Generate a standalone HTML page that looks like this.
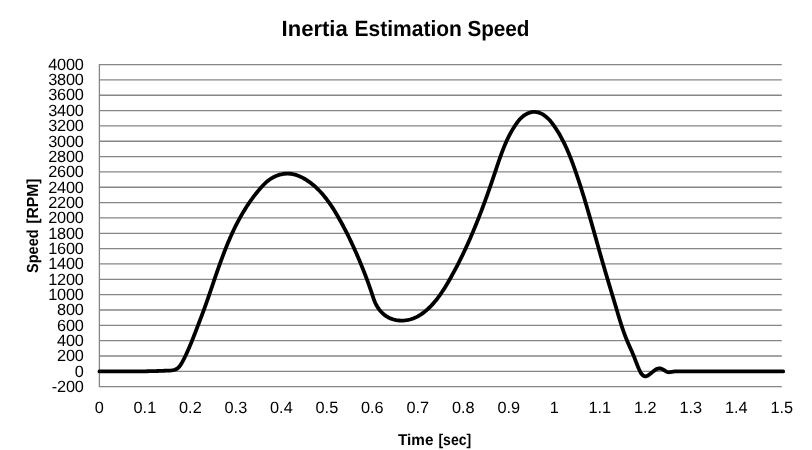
<!DOCTYPE html>
<html><head><meta charset="utf-8"><title>Inertia Estimation Speed</title>
<style>html,body{margin:0;padding:0;background:#fff;}svg{display:block;}text{font-family:"Liberation Sans",sans-serif;fill:#000;text-rendering:geometricPrecision;}svg{will-change:transform;}</style>
</head><body>
<svg width="812" height="450" viewBox="0 0 812 450">
<rect width="812" height="450" fill="#ffffff"/>
<g stroke="#868686" stroke-width="1.3" fill="none">
<line x1="99.40" y1="64.55" x2="781.80" y2="64.55"/>
<line x1="99.40" y1="79.89" x2="781.80" y2="79.89"/>
<line x1="99.40" y1="95.23" x2="781.80" y2="95.23"/>
<line x1="99.40" y1="110.57" x2="781.80" y2="110.57"/>
<line x1="99.40" y1="125.91" x2="781.80" y2="125.91"/>
<line x1="99.40" y1="141.25" x2="781.80" y2="141.25"/>
<line x1="99.40" y1="156.59" x2="781.80" y2="156.59"/>
<line x1="99.40" y1="171.93" x2="781.80" y2="171.93"/>
<line x1="99.40" y1="187.27" x2="781.80" y2="187.27"/>
<line x1="99.40" y1="202.61" x2="781.80" y2="202.61"/>
<line x1="99.40" y1="217.95" x2="781.80" y2="217.95"/>
<line x1="99.40" y1="233.29" x2="781.80" y2="233.29"/>
<line x1="99.40" y1="248.63" x2="781.80" y2="248.63"/>
<line x1="99.40" y1="263.97" x2="781.80" y2="263.97"/>
<line x1="99.40" y1="279.31" x2="781.80" y2="279.31"/>
<line x1="99.40" y1="294.65" x2="781.80" y2="294.65"/>
<line x1="99.40" y1="309.99" x2="781.80" y2="309.99"/>
<line x1="99.40" y1="325.33" x2="781.80" y2="325.33"/>
<line x1="99.40" y1="340.67" x2="781.80" y2="340.67"/>
<line x1="99.40" y1="356.01" x2="781.80" y2="356.01"/>
<line x1="99.40" y1="371.35" x2="781.80" y2="371.35"/>
<line x1="99.40" y1="386.69" x2="781.80" y2="386.69"/>
<line x1="99.40" y1="63.95" x2="99.40" y2="387.29"/>
</g>
<g font-size="16.3" text-anchor="end" letter-spacing="-0.18">
<text x="83.7" y="69.80">4000</text>
<text x="83.7" y="85.14">3800</text>
<text x="83.7" y="100.48">3600</text>
<text x="83.7" y="115.82">3400</text>
<text x="83.7" y="131.16">3200</text>
<text x="83.7" y="146.50">3000</text>
<text x="83.7" y="161.84">2800</text>
<text x="83.7" y="177.18">2600</text>
<text x="83.7" y="192.52">2400</text>
<text x="83.7" y="207.86">2200</text>
<text x="83.7" y="223.20">2000</text>
<text x="83.7" y="238.54">1800</text>
<text x="83.7" y="253.88">1600</text>
<text x="83.7" y="269.22">1400</text>
<text x="83.7" y="284.56">1200</text>
<text x="83.7" y="299.90">1000</text>
<text x="83.7" y="315.24">800</text>
<text x="83.7" y="330.58">600</text>
<text x="83.7" y="345.92">400</text>
<text x="83.7" y="361.26">200</text>
<text x="83.7" y="376.60">0</text>
<text x="83.7" y="391.94">-200</text>
</g>
<g font-size="16.3" text-anchor="middle">
<text x="99.40" y="412.9">0</text>
<text x="144.89" y="412.9">0.1</text>
<text x="190.39" y="412.9">0.2</text>
<text x="235.88" y="412.9">0.3</text>
<text x="281.37" y="412.9">0.4</text>
<text x="326.87" y="412.9">0.5</text>
<text x="372.36" y="412.9">0.6</text>
<text x="417.85" y="412.9">0.7</text>
<text x="463.35" y="412.9">0.8</text>
<text x="508.84" y="412.9">0.9</text>
<text x="554.33" y="412.9">1</text>
<text x="599.83" y="412.9">1.1</text>
<text x="645.32" y="412.9">1.2</text>
<text x="690.81" y="412.9">1.3</text>
<text x="736.31" y="412.9">1.4</text>
<text x="781.80" y="412.9">1.5</text>
</g>
<g font-size="22" font-weight="bold">
<text x="281.6" y="35.6" textLength="66.1" lengthAdjust="spacingAndGlyphs">Inertia</text>
<text x="354.6" y="35.6" textLength="107.3" lengthAdjust="spacingAndGlyphs">Estimation</text>
<text x="467.4" y="35.6" textLength="62.1" lengthAdjust="spacingAndGlyphs">Speed</text>
</g>
<g font-size="15.7" font-weight="bold">
<text x="398.0" y="445.1" textLength="35.4" lengthAdjust="spacingAndGlyphs">Time</text>
<text x="438.4" y="445.1" textLength="32.9" lengthAdjust="spacingAndGlyphs">[sec]</text>
</g>
<g font-size="16" font-weight="bold" transform="translate(38.2 272.8) rotate(-90)">
<text x="-0.2" y="0" textLength="43.6" lengthAdjust="spacingAndGlyphs">Speed</text>
<text x="49.0" y="0" textLength="45.3" lengthAdjust="spacingAndGlyphs">[RPM]</text>
</g>
<path d="M99.40 371.40 L101.11 371.39 L102.83 371.39 L104.54 371.39 L106.26 371.38 L107.97 371.38 L109.69 371.38 L111.40 371.39 L113.12 371.39 L114.84 371.39 L116.55 371.39 L118.27 371.40 L119.99 371.40 L121.71 371.40 L123.42 371.41 L125.14 371.41 L126.86 371.41 L128.58 371.41 L130.29 371.41 L132.01 371.40 L133.73 371.40 L135.44 371.39 L137.16 371.38 L138.87 371.37 L140.59 371.35 L142.30 371.33 L144.02 371.31 L145.73 371.28 L147.45 371.26 L149.16 371.22 L150.87 371.19 L152.58 371.14 L154.29 371.10 L156.00 371.05 L157.72 371.00 L159.43 370.94 L161.15 370.88 L162.87 370.82 L164.59 370.76 L166.31 370.69 L168.04 370.62 L169.78 370.54 L171.50 370.42 L173.20 370.18 L174.84 369.77 L176.40 369.10 L177.81 368.17 L179.04 366.99 L180.11 365.63 L181.07 364.15 L181.96 362.62 L182.79 361.09 L183.60 359.57 L184.37 358.05 L185.12 356.52 L185.86 354.99 L186.58 353.45 L187.29 351.89 L187.99 350.33 L188.68 348.77 L189.36 347.19 L190.03 345.61 L190.69 344.03 L191.35 342.44 L191.99 340.85 L192.63 339.25 L193.27 337.65 L193.90 336.04 L194.52 334.44 L195.14 332.83 L195.76 331.23 L196.38 329.62 L196.99 328.01 L197.61 326.41 L198.22 324.80 L198.83 323.20 L199.44 321.60 L200.05 320.00 L200.66 318.40 L201.27 316.81 L201.88 315.21 L202.48 313.61 L203.08 312.01 L203.67 310.40 L204.26 308.80 L204.84 307.19 L205.42 305.58 L206.00 303.97 L206.57 302.35 L207.14 300.73 L207.71 299.12 L208.28 297.50 L208.84 295.88 L209.40 294.25 L209.95 292.63 L210.51 291.00 L211.07 289.38 L211.62 287.75 L212.18 286.13 L212.73 284.50 L213.28 282.87 L213.84 281.24 L214.39 279.62 L214.95 277.99 L215.51 276.36 L216.07 274.74 L216.63 273.11 L217.19 271.49 L217.76 269.86 L218.33 268.24 L218.90 266.62 L219.47 265.00 L220.05 263.38 L220.64 261.77 L221.23 260.15 L221.82 258.54 L222.42 256.93 L223.02 255.32 L223.63 253.72 L224.25 252.12 L224.87 250.52 L225.50 248.92 L226.13 247.33 L226.77 245.74 L227.42 244.15 L228.08 242.57 L228.75 240.99 L229.42 239.41 L230.11 237.84 L230.80 236.27 L231.50 234.71 L232.21 233.15 L232.94 231.60 L233.67 230.05 L234.41 228.50 L235.17 226.96 L235.93 225.43 L236.71 223.90 L237.50 222.38 L238.30 220.86 L239.11 219.35 L239.94 217.85 L240.78 216.35 L241.63 214.86 L242.50 213.37 L243.38 211.89 L244.27 210.42 L245.17 208.96 L246.09 207.51 L247.03 206.06 L247.97 204.63 L248.93 203.20 L249.91 201.78 L250.90 200.38 L251.90 198.99 L252.91 197.60 L253.94 196.23 L254.99 194.87 L256.05 193.52 L257.12 192.19 L258.20 190.87 L259.31 189.56 L260.42 188.27 L261.55 186.99 L262.70 185.73 L263.87 184.49 L265.08 183.29 L266.33 182.13 L267.63 181.02 L268.99 179.97 L270.41 178.99 L271.89 178.07 L273.41 177.23 L274.98 176.46 L276.59 175.78 L278.23 175.18 L279.89 174.67 L281.57 174.26 L283.26 173.94 L284.96 173.73 L286.66 173.62 L288.35 173.62 L290.03 173.73 L291.70 173.95 L293.36 174.26 L294.99 174.67 L296.62 175.17 L298.22 175.75 L299.80 176.40 L301.36 177.12 L302.90 177.91 L304.41 178.75 L305.90 179.65 L307.36 180.59 L308.79 181.57 L310.19 182.59 L311.55 183.63 L312.89 184.71 L314.20 185.82 L315.48 186.95 L316.74 188.12 L317.96 189.31 L319.16 190.52 L320.34 191.76 L321.49 193.02 L322.62 194.31 L323.73 195.61 L324.81 196.94 L325.88 198.28 L326.92 199.64 L327.94 201.02 L328.95 202.42 L329.94 203.82 L330.91 205.25 L331.87 206.68 L332.81 208.13 L333.73 209.59 L334.65 211.05 L335.55 212.53 L336.43 214.01 L337.31 215.50 L338.18 216.99 L339.03 218.49 L339.88 219.99 L340.72 221.50 L341.55 223.01 L342.37 224.52 L343.19 226.03 L343.99 227.55 L344.79 229.07 L345.58 230.60 L346.36 232.13 L347.14 233.66 L347.90 235.19 L348.66 236.73 L349.41 238.27 L350.16 239.81 L350.90 241.35 L351.63 242.90 L352.35 244.45 L353.07 246.01 L353.78 247.56 L354.49 249.12 L355.19 250.68 L355.88 252.25 L356.57 253.81 L357.25 255.38 L357.93 256.95 L358.60 258.53 L359.27 260.11 L359.93 261.69 L360.58 263.27 L361.23 264.85 L361.88 266.44 L362.52 268.03 L363.16 269.62 L363.79 271.21 L364.41 272.81 L365.03 274.40 L365.65 276.01 L366.25 277.61 L366.86 279.22 L367.45 280.83 L368.04 282.44 L368.63 284.05 L369.21 285.67 L369.78 287.29 L370.34 288.92 L370.90 290.55 L371.46 292.18 L372.00 293.81 L372.54 295.45 L373.08 297.09 L373.63 298.72 L374.22 300.33 L374.86 301.93 L375.56 303.50 L376.34 305.03 L377.19 306.53 L378.11 307.97 L379.11 309.37 L380.17 310.71 L381.31 311.99 L382.51 313.19 L383.78 314.33 L385.12 315.38 L386.52 316.34 L387.98 317.22 L389.50 317.99 L391.09 318.66 L392.72 319.23 L394.39 319.69 L396.11 320.06 L397.84 320.32 L399.59 320.49 L401.36 320.56 L403.12 320.53 L404.87 320.41 L406.60 320.20 L408.31 319.90 L409.99 319.50 L411.62 319.02 L413.23 318.46 L414.79 317.82 L416.33 317.11 L417.83 316.33 L419.29 315.49 L420.73 314.60 L422.13 313.64 L423.49 312.65 L424.83 311.60 L426.14 310.52 L427.42 309.40 L428.66 308.25 L429.88 307.07 L431.07 305.87 L432.24 304.63 L433.38 303.37 L434.49 302.09 L435.59 300.78 L436.66 299.45 L437.70 298.10 L438.73 296.72 L439.74 295.34 L440.73 293.93 L441.70 292.51 L442.66 291.07 L443.60 289.62 L444.52 288.16 L445.43 286.69 L446.33 285.21 L447.22 283.73 L448.10 282.23 L448.97 280.73 L449.83 279.23 L450.68 277.72 L451.52 276.21 L452.36 274.70 L453.19 273.19 L454.02 271.67 L454.83 270.15 L455.64 268.63 L456.44 267.10 L457.24 265.58 L458.02 264.05 L458.81 262.51 L459.58 260.98 L460.35 259.44 L461.11 257.90 L461.87 256.36 L462.62 254.82 L463.36 253.27 L464.10 251.72 L464.83 250.17 L465.55 248.61 L466.27 247.06 L466.99 245.50 L467.70 243.94 L468.40 242.38 L469.10 240.81 L469.79 239.25 L470.47 237.68 L471.16 236.11 L471.83 234.53 L472.50 232.96 L473.17 231.38 L473.83 229.80 L474.49 228.22 L475.14 226.64 L475.79 225.06 L476.43 223.47 L477.07 221.88 L477.71 220.29 L478.34 218.70 L478.96 217.11 L479.58 215.51 L480.20 213.92 L480.82 212.32 L481.43 210.72 L482.03 209.12 L482.64 207.52 L483.24 205.91 L483.83 204.31 L484.43 202.70 L485.02 201.09 L485.60 199.48 L486.19 197.87 L486.77 196.25 L487.34 194.64 L487.92 193.02 L488.49 191.41 L489.06 189.79 L489.63 188.17 L490.19 186.55 L490.76 184.93 L491.32 183.30 L491.87 181.68 L492.43 180.06 L492.98 178.43 L493.53 176.80 L494.08 175.17 L494.63 173.54 L495.18 171.91 L495.72 170.28 L496.27 168.65 L496.81 167.02 L497.36 165.39 L497.91 163.76 L498.46 162.13 L499.02 160.50 L499.58 158.88 L500.16 157.26 L500.73 155.64 L501.32 154.03 L501.92 152.42 L502.53 150.81 L503.15 149.21 L503.78 147.62 L504.43 146.03 L505.10 144.45 L505.78 142.88 L506.47 141.31 L507.19 139.76 L507.92 138.21 L508.68 136.67 L509.46 135.14 L510.26 133.62 L511.08 132.11 L511.93 130.61 L512.81 129.13 L513.71 127.65 L514.64 126.19 L515.60 124.74 L516.59 123.32 L517.62 121.92 L518.70 120.57 L519.83 119.28 L521.01 118.05 L522.25 116.90 L523.57 115.84 L524.95 114.87 L526.42 114.02 L527.97 113.29 L529.60 112.69 L531.31 112.24 L533.04 111.97 L534.77 111.91 L536.48 112.05 L538.14 112.40 L539.76 112.93 L541.33 113.62 L542.85 114.44 L544.32 115.40 L545.72 116.45 L547.05 117.58 L548.31 118.78 L549.50 120.04 L550.63 121.34 L551.72 122.67 L552.76 124.04 L553.76 125.43 L554.74 126.84 L555.69 128.27 L556.62 129.70 L557.54 131.15 L558.43 132.61 L559.30 134.08 L560.15 135.56 L560.98 137.06 L561.79 138.56 L562.58 140.07 L563.36 141.59 L564.12 143.12 L564.87 144.66 L565.60 146.21 L566.31 147.77 L567.01 149.33 L567.70 150.90 L568.37 152.48 L569.03 154.06 L569.68 155.65 L570.32 157.25 L570.95 158.85 L571.57 160.45 L572.18 162.06 L572.78 163.67 L573.37 165.28 L573.96 166.90 L574.54 168.52 L575.11 170.15 L575.67 171.77 L576.24 173.40 L576.79 175.02 L577.34 176.65 L577.89 178.28 L578.44 179.91 L578.97 181.54 L579.51 183.18 L580.04 184.81 L580.57 186.44 L581.09 188.08 L581.61 189.72 L582.12 191.35 L582.63 192.99 L583.14 194.63 L583.65 196.27 L584.15 197.91 L584.65 199.55 L585.15 201.20 L585.64 202.84 L586.13 204.48 L586.62 206.13 L587.10 207.77 L587.59 209.42 L588.07 211.07 L588.55 212.71 L589.03 214.36 L589.50 216.01 L589.98 217.66 L590.45 219.31 L590.92 220.95 L591.39 222.60 L591.86 224.25 L592.33 225.90 L592.79 227.55 L593.26 229.20 L593.72 230.85 L594.19 232.51 L594.65 234.16 L595.12 235.81 L595.58 237.46 L596.04 239.11 L596.51 240.76 L596.97 242.41 L597.43 244.06 L597.90 245.71 L598.36 247.36 L598.83 249.02 L599.29 250.67 L599.76 252.32 L600.23 253.97 L600.70 255.62 L601.17 257.27 L601.64 258.91 L602.11 260.56 L602.59 262.21 L603.06 263.86 L603.54 265.51 L604.02 267.15 L604.50 268.80 L604.98 270.45 L605.47 272.09 L605.95 273.74 L606.44 275.38 L606.93 277.03 L607.42 278.67 L607.91 280.32 L608.40 281.96 L608.89 283.61 L609.38 285.25 L609.88 286.89 L610.37 288.54 L610.87 290.18 L611.36 291.83 L611.85 293.47 L612.35 295.11 L612.84 296.76 L613.34 298.40 L613.83 300.05 L614.32 301.69 L614.82 303.34 L615.31 304.98 L615.80 306.62 L616.29 308.27 L616.78 309.92 L617.27 311.56 L617.76 313.21 L618.25 314.85 L618.75 316.50 L619.24 318.14 L619.74 319.78 L620.25 321.42 L620.76 323.06 L621.28 324.70 L621.81 326.33 L622.35 327.96 L622.90 329.58 L623.46 331.20 L624.03 332.82 L624.62 334.43 L625.22 336.03 L625.84 337.63 L626.48 339.23 L627.13 340.82 L627.80 342.40 L628.49 343.97 L629.18 345.55 L629.88 347.12 L630.59 348.68 L631.29 350.25 L631.98 351.82 L632.66 353.39 L633.33 354.96 L633.97 356.54 L634.60 358.13 L635.21 359.72 L635.82 361.31 L636.43 362.90 L637.06 364.49 L637.69 366.08 L638.36 367.68 L639.05 369.26 L639.79 370.84 L640.58 372.41 L641.50 373.88 L642.67 375.15 L644.15 376.08 L645.79 376.36 L647.40 375.79 L648.90 374.80 L650.28 373.76 L651.59 372.71 L652.90 371.64 L654.28 370.57 L655.76 369.56 L657.31 368.78 L658.91 368.37 L660.54 368.48 L662.15 369.08 L663.71 369.97 L665.21 370.93 L666.72 371.75 L668.28 372.24 L669.94 372.22 L671.66 371.89 L673.40 371.58 L675.12 371.40 L676.84 371.31 L678.55 371.29 L680.25 371.32 L681.96 371.37 L683.67 371.41 L685.38 371.44 L687.09 371.46 L688.80 371.47 L690.52 371.47 L692.23 371.47 L693.95 371.47 L695.67 371.46 L697.39 371.45 L699.11 371.44 L700.83 371.43 L702.55 371.42 L704.26 371.41 L705.98 371.40 L707.70 371.40 L709.42 371.39 L711.13 371.39 L712.85 371.38 L714.57 371.38 L716.29 371.38 L718.00 371.37 L719.72 371.37 L721.43 371.37 L723.15 371.37 L724.87 371.37 L726.58 371.37 L728.30 371.38 L730.01 371.38 L731.73 371.38 L733.44 371.38 L735.16 371.38 L736.87 371.39 L738.59 371.39 L740.30 371.39 L742.02 371.40 L743.73 371.40 L745.45 371.40 L747.16 371.40 L748.88 371.41 L750.59 371.41 L752.31 371.41 L754.02 371.42 L755.74 371.42 L757.45 371.42 L759.17 371.42 L760.89 371.43 L762.60 371.43 L764.32 371.43 L766.03 371.43 L767.75 371.43 L769.46 371.43 L771.18 371.43 L772.90 371.42 L774.61 371.42 L776.33 371.42 L778.05 371.41 L779.77 371.41 L781.48 371.40 L783.20 371.40" fill="none" stroke="#000" stroke-width="3.8" stroke-linecap="round" stroke-linejoin="round"/>
</svg></body></html>
